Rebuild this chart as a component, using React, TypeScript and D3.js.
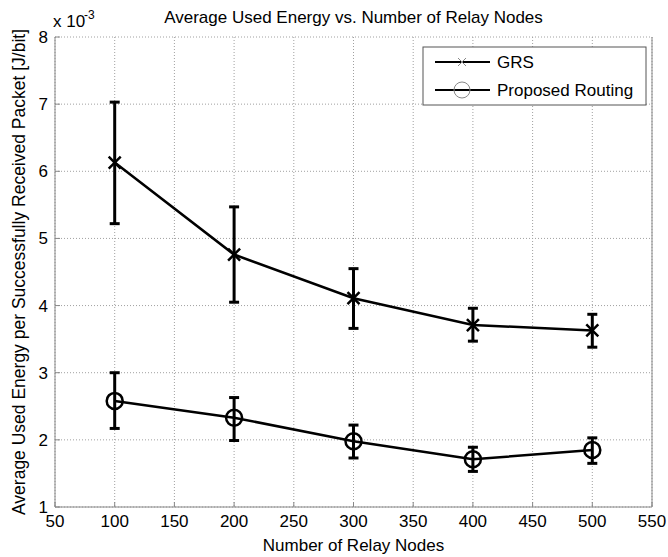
import React from "react";
import * as d3 from "d3";

const nodes = [100, 200, 300, 400, 500];
const grsMean = [6.13, 4.76, 4.11, 3.71, 3.63];
const grsUpper = [7.03, 5.47, 4.55, 3.96, 3.87];
const grsLower = [5.22, 4.05, 3.66, 3.47, 3.38];
const propMean = [2.58, 2.33, 1.98, 1.71, 1.85];
const propUpper = [3.0, 2.63, 2.22, 1.89, 2.03];
const propLower = [2.17, 1.99, 1.73, 1.53, 1.65];
const xTicks = [50, 100, 150, 200, 250, 300, 350, 400, 450, 500, 550];
const yTicks = [1, 2, 3, 4, 5, 6, 7, 8];

const W = 668, H = 557;
const M = { left: 55, right: 652, top: 37, bottom: 507 };
const FONT = "Liberation Sans, Arial, sans-serif";

export default function App() {
  const x = d3.scaleLinear().domain([50, 550]).range([M.left, M.right]);
  const y = d3.scaleLinear().domain([1, 8]).range([M.bottom, M.top]);
  const line = d3.line<number>().x((_, i) => x(nodes[i])).y((d) => y(d));

  const series = [
    { mean: grsMean, up: grsUpper, lo: grsLower, marker: "x" },
    { mean: propMean, up: propUpper, lo: propLower, marker: "o" },
  ];
  const cap = 5;

  return (
    <svg width={W} height={H} style={{ position: "absolute", left: 0, top: 0, background: "#fff" }} fontFamily={FONT}>
      <rect x={0} y={0} width={W} height={H} fill="#fff" />
      {/* grid */}
      {xTicks.map((t) => (
        <line key={"gx" + t} x1={x(t)} x2={x(t)} y1={M.top} y2={M.bottom} stroke="#a0a0a0" strokeWidth={1} strokeDasharray="1,2" />
      ))}
      {yTicks.map((t) => (
        <line key={"gy" + t} x1={M.left} x2={M.right} y1={y(t)} y2={y(t)} stroke="#a0a0a0" strokeWidth={1} strokeDasharray="1,2" />
      ))}
      {/* axes */}
      <line x1={M.left} x2={M.left} y1={M.top} y2={M.bottom} stroke="#888" strokeWidth={1} />
      <line x1={M.left} x2={M.right} y1={M.bottom} y2={M.bottom} stroke="#888" strokeWidth={1} />
      <line x1={M.right} x2={M.right} y1={M.top} y2={M.bottom} stroke="#888" strokeWidth={1} />
      {xTicks.map((t) => (
        <line key={"tx" + t} x1={x(t)} x2={x(t)} y1={M.bottom} y2={M.bottom - 5} stroke="#888" />
      ))}
      {yTicks.map((t) => (
        <line key={"ty" + t} x1={M.left} x2={M.left + 5} y1={y(t)} y2={y(t)} stroke="#888" />
      ))}
      {/* tick labels */}
      {xTicks.map((t) => (
        <text key={"lx" + t} x={x(t)} y={527} textAnchor="middle" fontSize={17} fill="#000">{t}</text>
      ))}
      {yTicks.map((t) => (
        <text key={"ly" + t} x={M.left - 7} y={y(t) + 6} textAnchor="end" fontSize={17} fill="#000">{t}</text>
      ))}
      <text x={53} y={27} fontSize={17}>x 10</text>
      <text x={84} y={19} fontSize={12}>-3</text>
      {/* title & labels */}
      <text x={(M.left + M.right) / 2} y={23} textAnchor="middle" fontSize={17}>Average Used Energy vs. Number of Relay Nodes</text>
      <text x={(M.left + M.right) / 2} y={551} textAnchor="middle" fontSize={17}>Number of Relay Nodes</text>
      <text transform={`translate(25,${(M.top + M.bottom) / 2}) rotate(-90)`} textAnchor="middle" fontSize={17.5}>
        Average Used Energy per Successfully Received Packet [J/bit]
      </text>
      {/* series */}
      {series.map((s, si) => (
        <g key={"s" + si}>
          <path d={line(s.mean) || ""} fill="none" stroke="#000" strokeWidth={2.5} />
          {nodes.map((n, i) => (
            <g key={i} stroke="#000" strokeWidth={3} fill="none">
              <line x1={x(n)} x2={x(n)} y1={y(s.up[i])} y2={y(s.lo[i])} />
              <line x1={x(n) - cap} x2={x(n) + cap} y1={y(s.up[i])} y2={y(s.up[i])} />
              <line x1={x(n) - cap} x2={x(n) + cap} y1={y(s.lo[i])} y2={y(s.lo[i])} />
              {s.marker === "x" ? (
                <path d={`M${x(n) - 6},${y(s.mean[i]) - 6}L${x(n) + 6},${y(s.mean[i]) + 6}M${x(n) - 6},${y(s.mean[i]) + 6}L${x(n) + 6},${y(s.mean[i]) - 6}`} strokeWidth={2.5} />
              ) : (
                <circle cx={x(n)} cy={y(s.mean[i])} r={8} strokeWidth={2.5} />
              )}
            </g>
          ))}
        </g>
      ))}
      {/* legend */}
      <g>
        <rect x={423} y={47} width={223} height={58} fill="#fff" stroke="#555" strokeWidth={1} />
        <line x1={435} x2={490} y1={62} y2={62} stroke="#000" strokeWidth={2} />
        <path d="M458,58L466,66M458,66L466,58" stroke="#888" strokeWidth={1} />
        <text x={497} y={68} fontSize={17}>GRS</text>
        <line x1={435} x2={490} y1={90} y2={90} stroke="#000" strokeWidth={2} />
        <circle cx={462} cy={90} r={8} fill="none" stroke="#888" strokeWidth={1} />
        <text x={497} y={96} fontSize={17}>Proposed Routing</text>
      </g>
    </svg>
  );
}
